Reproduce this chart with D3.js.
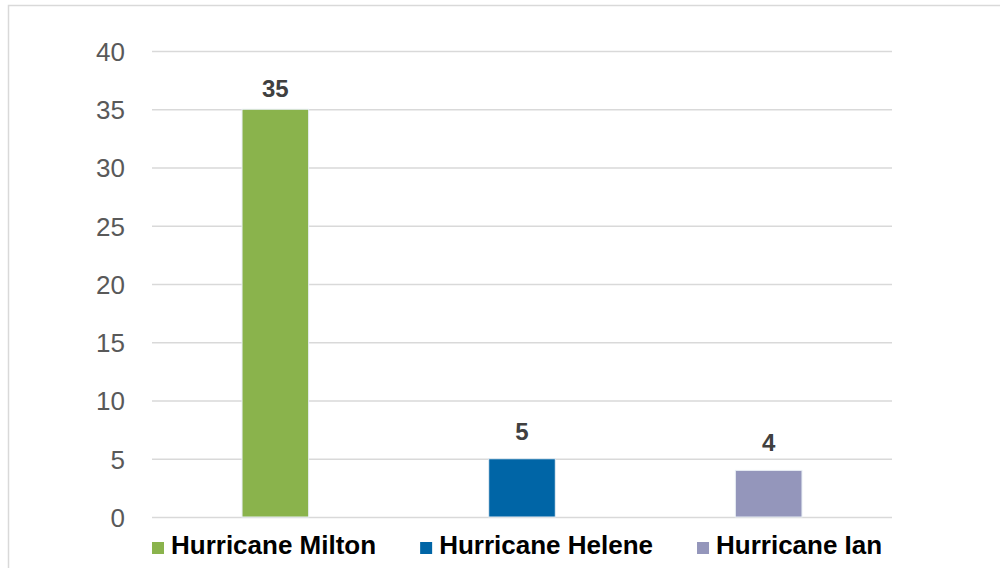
<!DOCTYPE html>
<html>
<head>
<meta charset="utf-8">
<script src="https://cdn.jsdelivr.net/npm/d3@7"></script>
<style>
  body { margin: 0; background: #fff; }
  svg { display: block; font-family: "Liberation Sans", Arial, sans-serif; }
</style>
</head>
<body>
<div id="chart"></div>
<script>
// chart data
var storms = ["Hurricane Milton", "Hurricane Helene", "Hurricane Ian"];
var counts = [35, 5, 4];
var colors = ["#8ab34c", "#0065a6", "#9496bb"];
var yTicks = [0, 5, 10, 15, 20, 25, 30, 35, 40];

var width = 1000;
var height = 568;
var plotLeft = 152, plotRight = 892;
var plotTop = 51, plotBottom = 517;

var svg = d3.select("#chart").append("svg")
    .attr("width", width)
    .attr("height", height);

// outer frame (runs off the right and bottom edge)
svg.append("rect")
    .attr("x", 8.5).attr("y", 5.5)
    .attr("width", 1100).attr("height", 700)
    .style("fill", "none")
    .style("stroke", "#d9d9d9")
    .style("stroke-width", 1.5);

var x = d3.scaleBand()
    .domain(storms)
    .range([plotLeft, plotRight])
    .paddingInner(0.73)
    .paddingOuter(0.365);

var y = d3.scaleLinear()
    .domain([0, 40])
    .range([plotBottom, plotTop]);

// gridlines + tick labels
var yAxis = d3.axisLeft(y)
    .tickValues(yTicks)
    .tickSize(-(plotRight - plotLeft))
    .tickPadding(27);

var ax = svg.append("g")
    .attr("transform", "translate(" + plotLeft + ",0)")
    .call(yAxis);
ax.select(".domain").remove();
ax.selectAll(".tick line")
    .style("stroke", "#d9d9d9")
    .style("stroke-width", 1.5);
ax.selectAll(".tick text")
    .attr("dy", "0.36em")
    .style("font-family", "'Liberation Sans', Arial, sans-serif")
    .style("font-size", "26px")
    .style("fill", "#595959");

// bars
svg.selectAll(".bar")
    .data(counts)
  .enter().append("rect")
    .attr("class", "bar")
    .attr("x", function(d, i) { return x(storms[i]); })
    .attr("y", function(d) { return y(d); })
    .attr("width", x.bandwidth())
    .attr("height", function(d) { return y(0) - y(d); })
    .style("fill", function(d, i) { return colors[i]; })
    .style("stroke", "#e8eef4")
    .style("stroke-width", 1);

// value labels
var maxCount = d3.max(counts);
svg.selectAll(".val")
    .data(counts)
  .enter().append("text")
    .attr("class", "val")
    .attr("x", function(d, i) { return x(storms[i]) + x.bandwidth() / 2; })
    .attr("y", function(d) { return y(d) - (d === maxCount ? 12 : 19); })
    .attr("text-anchor", "middle")
    .style("font-size", "24px")
    .style("font-weight", "bold")
    .style("fill", "#404040")
    .text(function(d) { return d; });

// legend
var legend = svg.append("g");
var items = legend.selectAll(".item")
    .data(storms)
  .enter().append("g")
    .attr("class", "item");

items.append("rect")
    .attr("width", 12).attr("height", 12)
    .attr("y", -12)
    .style("fill", function(d, i) { return colors[i]; });

items.append("text")
    .attr("x", 19)
    .style("font-size", "26px")
    .style("font-weight", "bold")
    .style("fill", "#000")
    .text(function(d) { return d; });

var pos = 152;
var gap = 44;
var offsets = [];
items.each(function() {
    var w = 19 + d3.select(this).select("text").node().getComputedTextLength();
    offsets.push(pos);
    pos += w + gap;
});
items.attr("transform", function(d, i) {
    return "translate(" + offsets[i] + ",554)";
});
</script>
</body>
</html>
